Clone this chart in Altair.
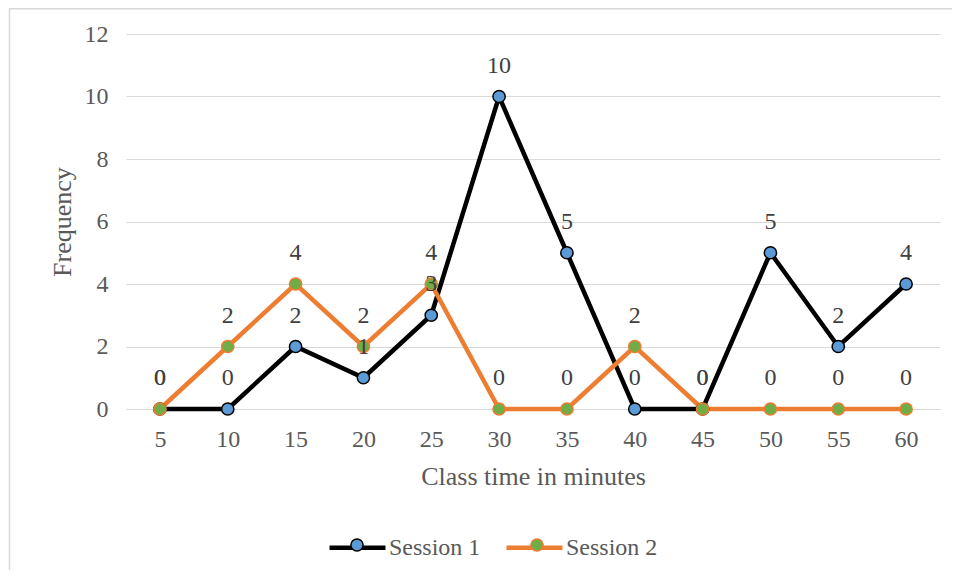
import altair as alt
import pandas as pd

times = ["5", "10", "15", "20", "25", "30", "35", "40", "45", "50", "55", "60"]
session1 = [0, 0, 2, 1, 3, 10, 5, 0, 0, 5, 2, 4]
session2 = [0, 2, 4, 2, 4, 0, 0, 2, 0, 0, 0, 0]
series_names = ["Session 1", "Session 2"]
line_colors = ["#000000", "#ed7d31"]
marker_colors = ["#5b9bd5", "#70ad47"]

rows = []
for name, vals in zip(series_names, [session1, session2]):
    for t, v in zip(times, vals):
        rows.append({"time": t, "value": v, "series": name})
df = pd.DataFrame(rows)

FONT = "Liberation Serif"
AXIS_COLOR = "#595959"

x_enc = alt.X(
    "time:O",
    sort=times,
    scale=alt.Scale(type="point", padding=0.5),
    axis=alt.Axis(
        title="Class time in minutes",
        labelAngle=0,
        labelFontSize=24,
        labelFont=FONT,
        labelColor=AXIS_COLOR,
        labelPadding=18,
        ticks=False,
        domainColor="#d9d9d9",
        domainWidth=1.2,
        grid=False,
        titleFont=FONT,
        titleFontSize=26,
        titleFontWeight="normal",
        titleColor=AXIS_COLOR,
        titleY=67,
        titleBaseline="middle",
    ),
)
y_enc = alt.Y(
    "value:Q",
    scale=alt.Scale(domain=[0, 12], nice=False),
    axis=alt.Axis(
        title="Frequency",
        values=[0, 2, 4, 6, 8, 10, 12],
        labelFontSize=24,
        labelFont=FONT,
        labelColor=AXIS_COLOR,
        labelPadding=18,
        ticks=False,
        domain=False,
        grid=True,
        gridColor="#d9d9d9",
        gridWidth=1.2,
        titleFont=FONT,
        titleFontSize=26,
        titleFontWeight="normal",
        titleColor=AXIS_COLOR,
        titleAngle=270,
        titleX=-64,
        titleBaseline="middle",
    ),
)

base = alt.Chart(df).encode(x=x_enc, y=y_enc)

line_legend = alt.Legend(
    title=None,
    orient="none",
    legendX=201,
    legendY=483,
    direction="horizontal",
    symbolType="stroke",
    symbolSize=3136,
    symbolStrokeWidth=4.5,
    labelFontSize=24,
    labelFont=FONT,
    labelColor=AXIS_COLOR,
    labelOffset=1,
    columnPadding=16,
    padding=0,
)
circle_legend = alt.Legend(
    title=None,
    orient="none",
    legendX=219,
    legendY=499,
    direction="horizontal",
    symbolType="circle",
    symbolSize=150,
    symbolStrokeWidth=1.5,
    labelFontSize=24,
    labelFont=FONT,
    labelColor=AXIS_COLOR,
    labelOpacity=0,
    labelOffset=47.8,
    columnPadding=16,
    padding=0,
)

lines = base.mark_line(strokeWidth=4.5).encode(
    stroke=alt.Stroke(
        "series:N",
        scale=alt.Scale(domain=series_names, range=line_colors),
        legend=line_legend,
    )
)
points = base.mark_point(
    shape="circle", filled=True, size=150, strokeWidth=1.5, opacity=1
).encode(
    fill=alt.Fill(
        "series:N",
        scale=alt.Scale(domain=series_names, range=marker_colors),
        legend=circle_legend,
    ),
    stroke=alt.Stroke(
        "series:N",
        scale=alt.Scale(domain=series_names, range=line_colors),
        legend=circle_legend,
    ),
)
labels = base.mark_text(
    dy=-31, fontSize=24, font=FONT, color="#404040", baseline="middle"
).encode(text="value:Q")

frame_left = alt.Chart(pd.DataFrame({"a": [0]})).mark_rule(
    color="#d9d9d9", strokeWidth=1.5
).encode(x=alt.value(-116.5), y=alt.value(-40), y2=alt.value(560))
frame_top = alt.Chart(pd.DataFrame({"a": [0]})).mark_rule(
    color="#d9d9d9", strokeWidth=1.5
).encode(x=alt.value(-117), x2=alt.value(840), y=alt.value(-25.2))

chart = (
    alt.layer(frame_left, frame_top, lines, points, labels)
    .resolve_scale(stroke="independent", fill="independent")
    .properties(
        width=814,
        height=375,
        background="white",
        autosize=alt.AutoSizeParams(type="none"),
        padding={"left": 118, "top": 26, "right": 12, "bottom": 161},
    )
    .configure_view(stroke=None)
)

chart.save("out.html", embed_options={"renderer": "svg", "actions": False})
